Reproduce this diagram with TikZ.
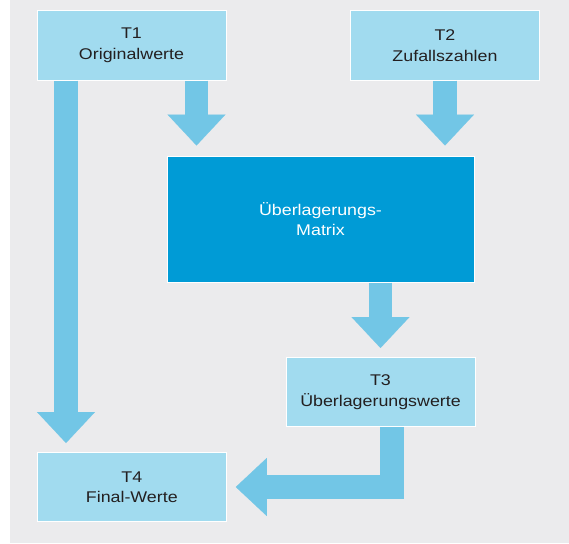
\documentclass[tikz,border=0pt]{standalone}
\usepackage{fontspec}
\setmainfont{Liberation Sans}[FakeStretch=1.15]
\usetikzlibrary{arrows.meta,calc}

\definecolor{bggrey}{HTML}{EBEBED}
\definecolor{boxblue}{HTML}{A1DBEF}
\definecolor{arrowblue}{HTML}{72C6E6}
\definecolor{matrixblue}{HTML}{009BD6}
\definecolor{textdark}{HTML}{231F20}

\tikzset{
	tabbox/.style={draw=white, line width=1pt, fill=boxblue, minimum width=189pt,
		minimum height=69pt, inner sep=0pt, align=center, text=textdark,
		font=\fontsize{15.5}{20.5}\selectfont},
	matrixbox/.style={tabbox, fill=matrixblue, text=white, minimum width=307pt,
		minimum height=126pt},
	bigarrow/.style={draw=arrowblue, line width=23.5pt, line join=miter,
		-{Triangle[length=31pt, width=58pt, line width=0.1pt]}, shorten >=9pt}
}

\begin{document}
\begin{tikzpicture}[x=1pt, y=-1pt]
		\useasboundingbox (0,0) rectangle (569,543);
		\fill[bggrey] (10,0) rectangle (569,543);
		
		% Tables
		\node[tabbox] (T1) at (131.5,45.5) {T1\\Originalwerte};
		\node[tabbox] (T2) at (445,45.5) {T2\\Zufallszahlen};
		\node[matrixbox] (M) at (320.5,219) {Überlagerungs-\\Matrix};
		\node[tabbox] (T3) at (380.5,392) {T3\\Überlagerungswerte};
		\node[tabbox] (T4) at (131.8,487) {T4\\Final-Werte};
		
		% Arrows
		\draw[bigarrow] (T1.south -| 66,0) -- (T4.north -| 66,0);
		\draw[bigarrow, shorten >=10pt] (T1.south -| 196.5,0) -- (M.north -| 196.5,0);
		\draw[bigarrow, shorten >=10pt] (T2.south) -- (M.north -| T2.south);
		\draw[bigarrow] (M.south -| T3.north) -- (T3.north);
		\draw[bigarrow] ($(T3.south)+(11.5,0)$) |- (T4.east);
		
	\end{tikzpicture}
\end{document}
